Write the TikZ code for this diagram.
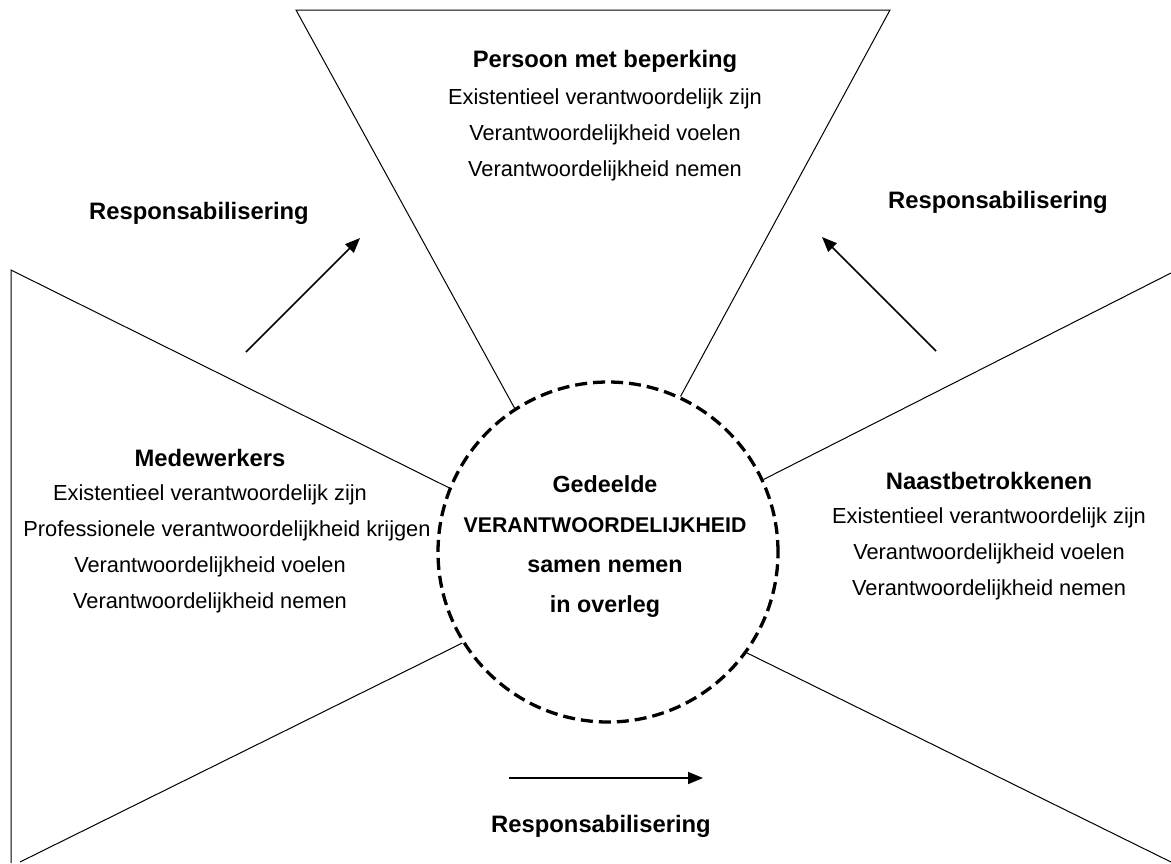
\documentclass[tikz,border=0pt]{standalone}
\usepackage{fontspec}
\setmainfont{Liberation Sans}
\usetikzlibrary{
  arrows.meta
  , calc
}

\begin{document}
\begin{tikzpicture}[x=1pt, y=-1pt,
    wall/.style={line width=1pt},
    flow/.style={-{Triangle[length=15pt, width=12pt]}, line width=1.7pt},
    head/.style={font=\bfseries\fontsize{23.8}{40}\selectfont, inner sep=0pt},
    body/.style={font=\fontsize{21.8}{36}\selectfont, align=center, inner sep=0pt},
  ]
  \useasboundingbox (0,0) rectangle (1171,863);

  % gedeelde verantwoordelijkheid in het midden
  \node [draw, circle, minimum size=340pt, line width=3.3pt,
    dash pattern=on 12pt off 6pt] (core) at (608,552) {};
  \node [head, align=center, font=\bfseries\fontsize{23.3}{40}\selectfont] (corelabel) at (605,547)
    {Gedeelde\\{\fontsize{21.3}{40}\selectfont VERANTWOORDELIJKHEID}\\samen nemen\\in overleg};

  % bovenste vlak
  \coordinate (tl) at (296,10);
  \coordinate (tr) at (890,10);
  \draw [wall] (core.123.7) -- (tl) -- (tr) -- (core.65.4);

  % linker vlak
  \coordinate (lt) at (11,270);
  \coordinate (lb) at (11,863);
  \coordinate (lf) at (20,862);
  \draw [wall] (core.158.3) -- (lt) -- (lb);
  \draw [wall] (core.212.1) -- (lf);

  % rechter vlak
  \coordinate (rt) at (1171,273);
  \coordinate (rb) at (1171,862);
  \draw [wall] (core.25.5) -- (rt);
  \draw [wall] (core.324.7) -- (rb);

  % actoren
  \node [head] (patient) at (605,61) {Persoon met beperking};
  \node [body] (patientroles) at (605,135)
    {Existentieel verantwoordelijk zijn\\Verantwoordelijkheid voelen\\Verantwoordelijkheid nemen};

  \node [head] (staff) at (210,458) {Medewerkers};
  \node [body] (staffroles) at (210,549)
    {Existentieel verantwoordelijk zijn\\\hspace*{34pt}Professionele verantwoordelijkheid krijgen\\Verantwoordelijkheid voelen\\Verantwoordelijkheid nemen};

  \node [head] (kin) at (989,481) {Naastbetrokkenen};
  \node [body] (kinroles) at (989,554)
    {Existentieel verantwoordelijk zijn\\Verantwoordelijkheid voelen\\Verantwoordelijkheid nemen};

  % responsabilisering
  \coordinate (ls) at (246,352);
  \coordinate (le) at (360,238);
  \draw [flow] (ls) -- (le);
  \node [head] (leftflow) at (199,213) {Responsabilisering};

  \coordinate (rs) at (936,351);
  \coordinate (re) at (822,237);
  \draw [flow] (rs) -- (re);
  \node [head] (rightflow) at (998,202) {Responsabilisering};

  \coordinate (bs) at (509,778);
  \coordinate (be) at (703,778);
  \draw [flow] (bs) -- (be);
  \node [head] (bottomflow) at (601,826) {Responsabilisering};
\end{tikzpicture}
\end{document}
